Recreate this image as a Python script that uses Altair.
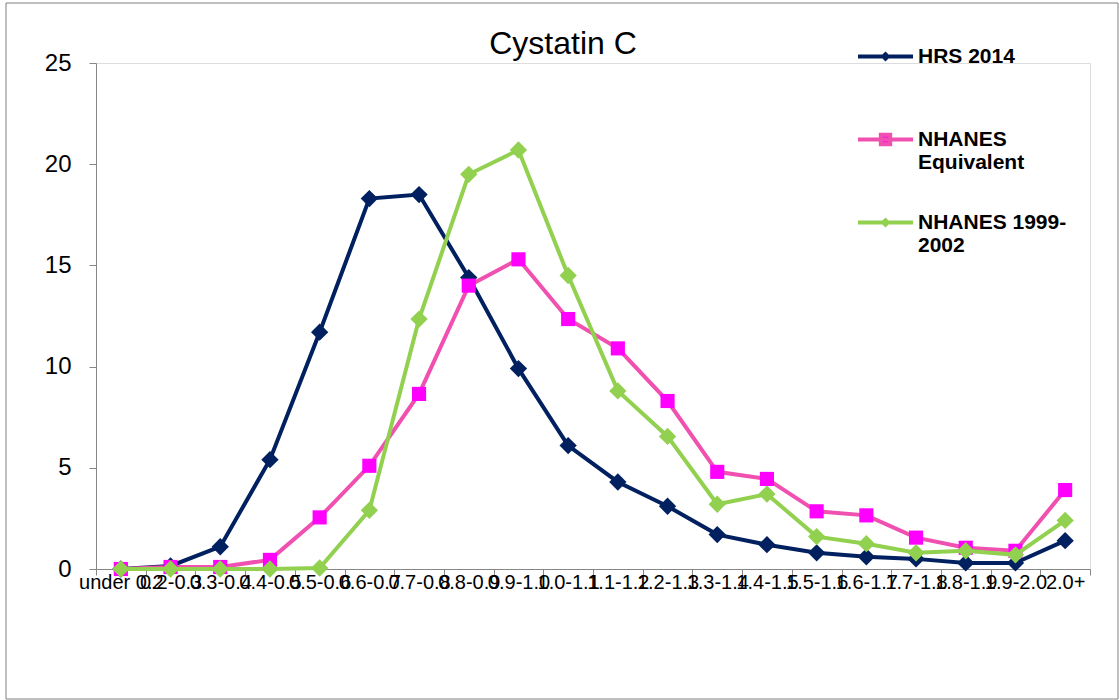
import altair as alt
import pandas as pd

# ---- data ----
categories = ["under 0.2", "0.2-0.3", "0.3-0.4", "0.4-0.5", "0.5-0.6", "0.6-0.7",
              "0.7-0.8", "0.8-0.9", "0.9-1.0", "1.0-1.1", "1.1-1.2", "1.2-1.3",
              "1.3-1.4", "1.4-1.5", "1.5-1.6", "1.6-1.7", "1.7-1.8", "1.8-1.9",
              "1.9-2.0", "2.0+"]
hrs_2014 = [0.0, 0.15, 1.1, 5.4, 11.7, 18.3, 18.5, 14.4, 9.9, 6.1, 4.3, 3.1,
            1.7, 1.2, 0.8, 0.6, 0.5, 0.3, 0.3, 1.4]
nhanes_equivalent = [0.0, 0.1, 0.1, 0.45, 2.55, 5.1, 8.65, 14.0, 15.3, 12.35, 10.9, 8.3,
                     4.8, 4.45, 2.85, 2.65, 1.55, 1.05, 0.9, 3.9]
nhanes_1999_2002 = [0.0, 0.0, 0.0, 0.0, 0.05, 2.9, 12.35, 19.5, 20.7, 14.5, 8.8, 6.55,
                    3.2, 3.7, 1.6, 1.25, 0.8, 0.9, 0.7, 2.4]

series_names = ["HRS 2014", "NHANES Equivalent", "NHANES 1999-2002"]
series_values = [hrs_2014, nhanes_equivalent, nhanes_1999_2002]
y_ticks = [0, 5, 10, 15, 20, 25]
chart_title = "Cystatin C"

# ---- styling ----
line_colors = ["#002060", "#F050B0", "#92D050"]
marker_colors = ["#002060", "#FF00FF", "#92D050"]
marker_shapes = ["diamond", "square", "diamond"]
marker_sizes = [300, 200, 300]
legend_symbols = [
    "M-1,0H1M-0.08,0L0,-0.08L0.08,0L0,0.08Z",
    "M-1,0H1M-0.17,-0.17H0.17V0.17H-0.17Z",
    "M-1,0H1M-0.08,0L0,-0.08L0.08,0L0,0.08Z",
]
FONT = "Liberation Sans"
AXIS_GRAY = "#868686"

rows = []
for name, vals in zip(series_names, series_values):
    for cat, v in zip(categories, vals):
        rows.append({"series": name, "category": cat, "value": v})
df = pd.DataFrame(rows)

x_enc = alt.X(
    "category:N", sort=categories, bandPosition=0.5,
    scale=alt.Scale(type="band", paddingInner=0, paddingOuter=0),
    axis=alt.Axis(title=None, labelAngle=0, tickBand="extent", labelOverlap=False,
                  labelFont=FONT, labelFontSize=20, labelColor="black", labelPadding=-3,
                  domainColor=AXIS_GRAY, tickColor=AXIS_GRAY, tickSize=6, grid=False),
)
y_enc = alt.Y(
    "value:Q", scale=alt.Scale(domain=[0, 25], nice=False),
    axis=alt.Axis(title=None, values=y_ticks, grid=False, labelFont=FONT,
                  labelFontSize=24, labelColor="black", labelPadding=18,
                  domainColor=AXIS_GRAY, tickColor=AXIS_GRAY, tickSize=7),
)

base = alt.Chart(df)
layers = []
for i, name in enumerate(series_names):
    sub = base.transform_filter(alt.datum.series == name)
    layers.append(sub.mark_line(strokeWidth=4, color=line_colors[i]).encode(x=x_enc, y=y_enc))
    layers.append(sub.mark_point(filled=True, opacity=1, shape=marker_shapes[i],
                                 size=marker_sizes[i], color=marker_colors[i])
                  .encode(x=x_enc, y=y_enc))

legend = alt.Legend(
    title=None, orient="none", legendX=760, legendY=-36, direction="vertical",
    labelFont=FONT, labelFontSize=21, labelFontWeight="bold", labelColor="black",
    labelExpr=("datum.label == 'NHANES Equivalent' ? ['NHANES', 'Equivalent'] : "
               "datum.label == 'NHANES 1999-2002' ? ['NHANES 1999-', '2002'] : "
               "[datum.label, ' ']"),
    symbolSize=3025, symbolStrokeWidth=4, symbolOpacity=1, rowPadding=20,
    labelOffset=3, padding=0, labelLimit=400,
)
legend_layer = base.transform_filter("false").mark_point(filled=True, opacity=1).encode(
    shape=alt.Shape("series:N", scale=alt.Scale(domain=series_names, range=legend_symbols),
                    legend=legend),
    fill=alt.Fill("series:N", scale=alt.Scale(domain=series_names, range=marker_colors),
                  legend=legend),
    stroke=alt.Stroke("series:N", scale=alt.Scale(domain=series_names, range=line_colors),
                      legend=legend),
)

title_layer = alt.Chart(pd.DataFrame({"t": [chart_title]})).mark_text(
    font=FONT, fontSize=32, color="black", align="center", baseline="alphabetic"
).encode(text="t:N", x=alt.value(467), y=alt.value(-9))

frame = alt.Chart(pd.DataFrame({"k": [0]})).mark_rect(
    filled=False, stroke="#7f7f7f", strokeWidth=1
).encode(x=alt.value(-90), x2=alt.value(1022), y=alt.value(-60), y2=alt.value(636))

chart = alt.layer(frame, title_layer, *layers, legend_layer).properties(
    width=994, height=506,
    padding={"left": 5, "top": 2, "right": 0, "bottom": 0},
).configure_view(strokeWidth=0).configure(font=FONT, background="white")

chart.save("out.html", embed_options={"renderer": "svg", "actions": False})
